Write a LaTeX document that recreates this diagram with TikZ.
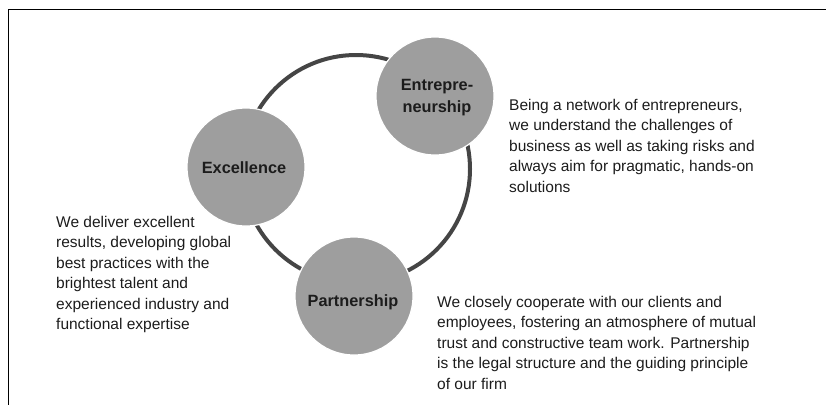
\documentclass[tikz,border=0pt]{standalone}
\usepackage{fontspec}
\setmainfont{Liberation Sans}
\definecolor{pillargray}{HTML}{9E9E9E}
\definecolor{ringgray}{HTML}{454545}
\definecolor{inkgray}{HTML}{1C1C1C}
\begin{document}
\begin{tikzpicture}[x=1pt,y=-1pt,
  pillar/.style={circle, fill=pillargray, draw=white, line width=1.2pt,
                 minimum size=118pt, inner sep=0pt},
  pillarlabel/.style={font=\fontsize{16.3}{22.5}\selectfont\bfseries,
                      text=inkgray, align=center, inner sep=0pt},
  blurb/.style={font=\fontsize{15.5}{20.5}\selectfont, text=inkgray,
                align=left, inner sep=0pt, anchor=north west},
  ring/.style={draw=ringgray, line width=4pt},
  frame/.style={draw=black, line width=1pt}]
\useasboundingbox (0,0) rectangle (826,405);

% page frame: top rule and left rule
\coordinate (frameTR) at (826,9);
\coordinate (frameTL) at (8,9);
\coordinate (frameBL) at (8,405);
\draw[frame] (frameTR) -- (frameTL) -- (frameBL);

% ring linking the three values
\coordinate (hub) at (356,169);
\draw[ring] (hub) circle [radius=114pt];

% the three values
\node[pillar] (ent) at (435,96) {};
\node[pillar] (exc) at (246,167) {};
\node[pillar] (par) at (354,296) {};

\node[pillarlabel] (entl) at (437,97.5) {Entrepre-\\neurship};
\node[pillarlabel] (excl) at (244,167.5) {Excellence};
\node[pillarlabel] (parl) at (353,302) {Partnership};

% descriptions
\node[blurb] (entd) at (509,98.7) {Being a network of entrepreneurs,\\
we understand the challenges of\\
business as well as taking risks and\\
always aim for pragmatic, hands-on\\
solutions};

\node[blurb] (excd) at (56,216) {We deliver excellent\\
results, developing global\\
best practices with the\\
brightest talent and\\
experienced industry and\\
functional expertise};

\node[blurb] (pard) at (437,296) {We closely cooperate with our clients and\\
employees, fostering an atmosphere of mutual\\
trust and constructive team work. Partnership\\
is the legal structure and the guiding principle\\
of our firm};
\end{tikzpicture}
\end{document}
